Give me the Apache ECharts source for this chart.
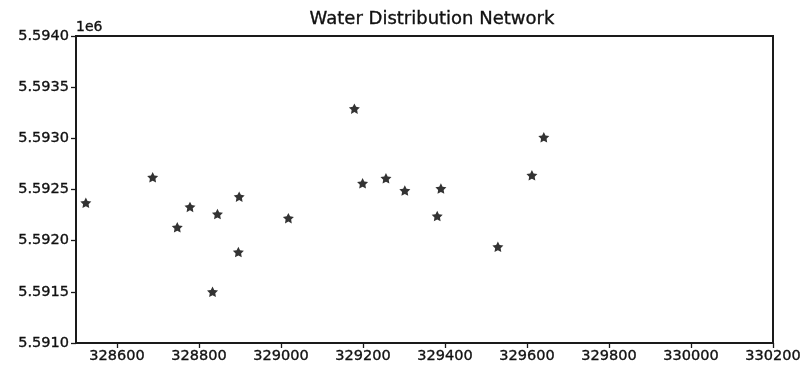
<!DOCTYPE html>
<html>
<head>
<meta charset="utf-8">
<script src="https://cdn.jsdelivr.net/npm/echarts@6/dist/echarts.min.js"></script>
<style>html,body{margin:0;padding:0;background:#fff;}#c{width:801px;height:369px;}</style>
</head>
<body>
<div id="c"></div>
<script>
const title = 'Water Distribution Network';
const xValues = [328524, 328687, 328747, 328778, 328845, 328898, 328896, 328833, 329018, 329179, 329199, 329256, 329302, 329390, 329381, 329529, 329612, 329641];
const yValues = [5592370, 5592620, 5592130, 5592330, 5592260, 5592430, 5591890, 5591500, 5592220, 5593290, 5592560, 5592610, 5592490, 5592510, 5592240, 5591940, 5592640, 5593010];
const xTicks = [328600, 328800, 329000, 329200, 329400, 329600, 329800, 330000, 330200];
const yTicks = [5591000, 5591500, 5592000, 5592500, 5593000, 5593500, 5594000];

const star = 'path://M0 -1 L0.294 -0.405 L0.951 -0.309 L0.476 0.155 L0.588 0.809 L0 0.5 L-0.588 0.809 L-0.476 0.155 L-0.951 -0.309 L-0.294 -0.405 Z';
const font = 'DejaVu Sans';
const txt = {fontFamily: font, color: '#111', textBorderColor: '#111', textBorderWidth: 0.35};
const chart = echarts.init(document.getElementById('c'), null, {renderer: 'canvas'});
chart.setOption({
  animation: false,
  backgroundColor: '#fff',
  title: {
    text: title, left: 427, top: 5, textAlign: 'center',
    textStyle: Object.assign({}, txt, {fontSize: 18, fontWeight: 'normal'})
  },
  grid: {left: 76, right: 28, top: 36, bottom: 26, outerBoundsMode: 'none', containLabel: false,
    show: true, borderColor: '#1a1a1a', borderWidth: 2, backgroundColor: 'transparent'},
  xAxis: {
    type: 'value', min: 328500, max: 330200,
    axisLine: {show: true, lineStyle: {color: '#1a1a1a', width: 2}},
    axisTick: {show: true, length: 5, customValues: xTicks, lineStyle: {color: '#1a1a1a', width: 1.3}},
    axisLabel: Object.assign({customValues: xTicks, fontSize: 14.5, margin: 6,
      formatter: v => String(v)}, txt),
    splitLine: {show: false}
  },
  yAxis: {
    type: 'value', min: 5591000, max: 5594000, interval: 500,
    name: '1e6', nameLocation: 'end', nameGap: 2,
    nameTextStyle: Object.assign({fontSize: 14, align: 'left', verticalAlign: 'bottom'}, txt),
    axisLine: {show: true, lineStyle: {color: '#1a1a1a', width: 2}},
    axisTick: {show: true, length: 5, customValues: yTicks, lineStyle: {color: '#1a1a1a', width: 1.3}},
    axisLabel: Object.assign({customValues: yTicks, fontSize: 14.5, margin: 7,
      formatter: v => (v / 1e6).toFixed(4)}, txt),
    splitLine: {show: false}
  },
  series: [{
    type: 'scatter',
    data: xValues.map((x, i) => [x, yValues[i]]),
    symbol: star, symbolSize: [11, 10.5],
    itemStyle: {color: '#333', opacity: 1}
  }]
});
</script>
</body>
</html>
